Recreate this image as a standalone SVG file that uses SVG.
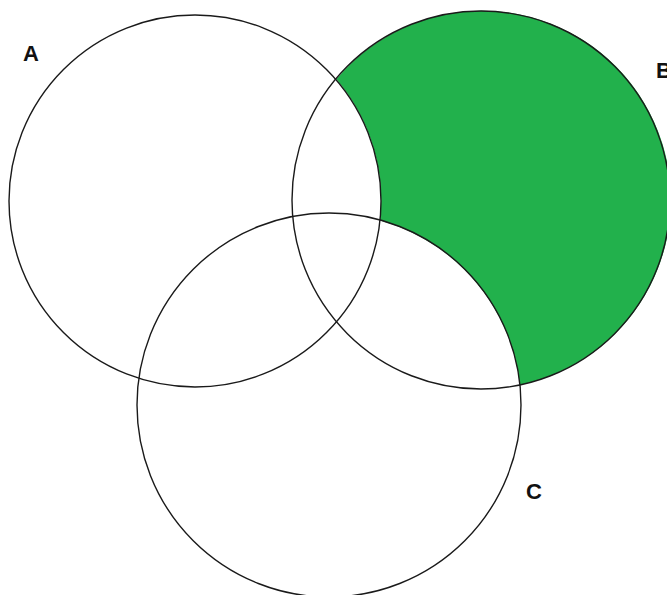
<svg xmlns="http://www.w3.org/2000/svg" width="667" height="595" viewBox="0 0 667 595">
<style>
.c{fill:none;stroke:#1a1a1a;stroke-width:1.4}
.lbl{font-family:"Liberation Sans",Arial,sans-serif;font-weight:bold;font-size:22px;fill:#111}
</style>
<rect width="667" height="595" fill="#ffffff"/>
<path id="region" d="M336.3 79.3 A189 189 0 1 1 519.9 384.9 A192 192 0 0 0 380 220.6 A186 186 0 0 0 336.3 79.3 Z" fill="#22B14C"/>
<g id="A"><circle class="c" cx="195" cy="201" r="186"/><text class="lbl" x="23" y="61">A</text></g>
<g id="B"><circle class="c" cx="481" cy="200" r="189"/><text class="lbl" x="656" y="78">B</text></g>
<g id="C"><circle class="c" cx="329" cy="405" r="192"/><text class="lbl" x="526" y="499">C</text></g>
</svg>
